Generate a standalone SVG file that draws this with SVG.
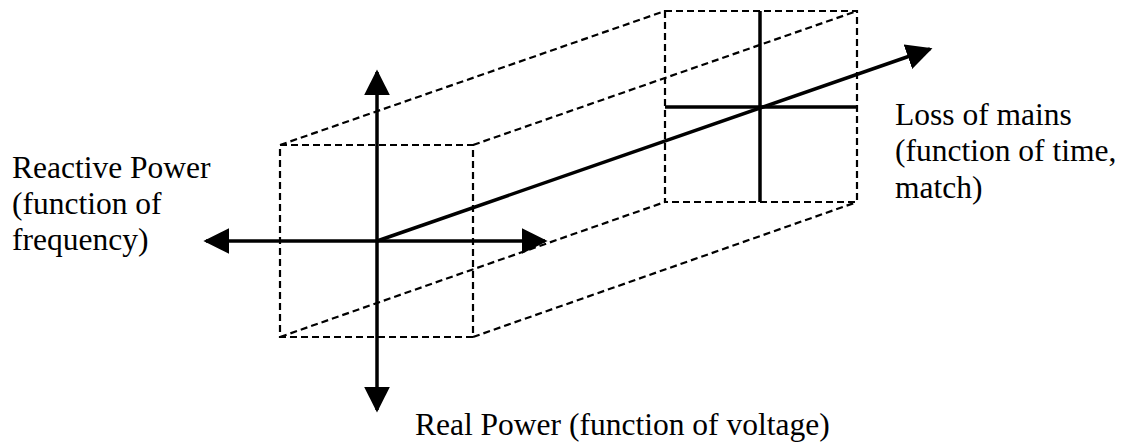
<svg xmlns="http://www.w3.org/2000/svg" width="1125" height="443" viewBox="0 0 1125 443">
<style>
.dash{fill:none;stroke:#000;stroke-width:2.2;stroke-dasharray:7,4}
.axis{fill:none;stroke:#000;stroke-width:3.5}
.lbl{font-family:'Liberation Serif','Times New Roman',serif;font-size:31.5px;fill:#000}
</style>
<defs>
<marker id="ah" viewBox="0 0 10 10" refX="9" refY="5" markerWidth="26" markerHeight="26" markerUnits="userSpaceOnUse" orient="auto">
<path d="M0,0L10,5L0,10z" fill="#000"/>
</marker>
</defs>
<g id="box">
<rect class="dash" x="280" y="145" width="193" height="192"/>
<rect class="dash" x="665" y="11" width="192" height="191"/>
<line class="dash" x1="280" y1="145" x2="665" y2="11"/>
<line class="dash" x1="473" y1="145" x2="857" y2="11"/>
<line class="dash" x1="280" y1="337" x2="665" y2="202"/>
<line class="dash" x1="473" y1="337" x2="857" y2="202"/>
</g>
<g id="connectors">
<line class="axis" x1="377" y1="241" x2="377" y2="72" marker-end="url(#ah)"/>
<line class="axis" x1="377" y1="241" x2="377" y2="410" marker-end="url(#ah)"/>
<line class="axis" x1="377" y1="241" x2="206" y2="241" marker-end="url(#ah)"/>
<line class="axis" x1="377" y1="241" x2="545" y2="241" marker-end="url(#ah)"/>
<line class="axis" x1="377" y1="241" x2="930" y2="49" marker-end="url(#ah)"/>
<line class="axis" x1="760" y1="11" x2="760" y2="202"/>
<line class="axis" x1="665" y1="107" x2="857" y2="107"/>
</g>
<g id="label-reactive">
<text class="lbl" x="12" y="178">Reactive Power</text>
<text class="lbl" x="12" y="214">(function of</text>
<text class="lbl" x="12" y="250">frequency)</text>
</g>
<g id="label-loss">
<text class="lbl" x="895" y="125">Loss of mains</text>
<text class="lbl" x="895" y="161">(function of time,</text>
<text class="lbl" x="895" y="198">match)</text>
</g>
<g id="label-real">
<text class="lbl" x="415" y="435" font-size="30.1">Real Power (function of voltage)</text>
</g>
</svg>
